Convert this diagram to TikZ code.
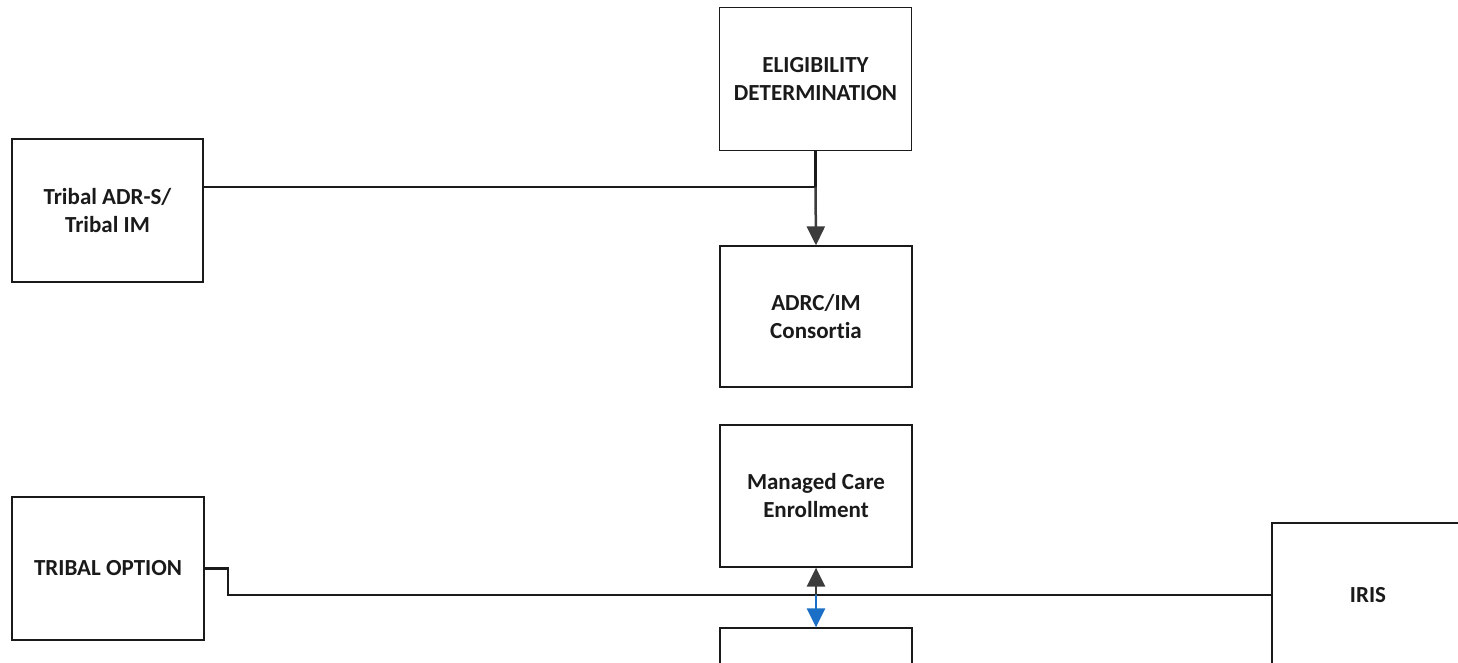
\documentclass[tikz,border=0pt]{standalone}
\usepackage{fontspec}
\setmainfont[Ligatures=NoCommon]{Carlito}
\usetikzlibrary{arrows.meta}
\definecolor{ink}{HTML}{1A1A1A}
\definecolor{tipgray}{HTML}{3C3C3C}
\definecolor{blueln}{HTML}{1C6FC6}
\tikzset{
  box/.style={draw=ink, line width=1.3pt, fill=white, minimum width=192pt, minimum height=143pt,
    inner sep=0pt, align=center, text=ink, font=\fontsize{23}{28}\selectfont\bfseries},
  conn/.style={draw=ink, line width=2.5pt},
  tipblack/.style={-{Triangle[width=18pt,length=19pt]}, color=tipgray, line width=2.5pt},
  tipblue/.style={-{Triangle[width=18pt,length=19pt]}, color=blueln, line width=2.5pt}
}
\begin{document}
\begin{tikzpicture}[x=1pt,y=-1pt]
\useasboundingbox (0,0) rectangle (1458,663);
\clip (0,0) rectangle (1458,663);
\fill[white] (0,0) rectangle (1458,663);
\node[box] (elig) at (815.5,79) {ELIGIBILITY\\DETERMINATION};
\node[box, minimum width=191pt] (tadr) at (107.5,210.5) {Tribal ADR-S/\\Tribal IM};
\node[box, minimum height=141pt] (adrc) at (816,316.5) {ADRC/IM\\Consort\kern0pt ia};
\node[box, minimum height=142pt] (mc) at (816,496) {Managed Care\\Enrollment};
\node[box] (bot) at (816,699.5) {};
\node[box] (topt) at (108,568.5) {TRIBAL OPTION};
\node[box, minimum height=144pt] (iris) at (1368,595) {IRIS};
\coordinate (j1) at (815.5,187);
\coordinate (k) at (228,593);
\coordinate (m) at (mc.south |- iris.west);
\draw[conn] (tadr.east |- j1) -- (j1);
\draw[conn] (elig.south) -- (j1);
\draw[tipblack] (j1) -- (adrc.north);
\draw[conn] (topt.east) -- (k |- topt.east) -- (k |- iris.west) -- (iris.west);
\draw[tipblack] (m) -- (mc.south);
\draw[tipblue] (m) -- (bot.north);
\end{tikzpicture}
\end{document}
